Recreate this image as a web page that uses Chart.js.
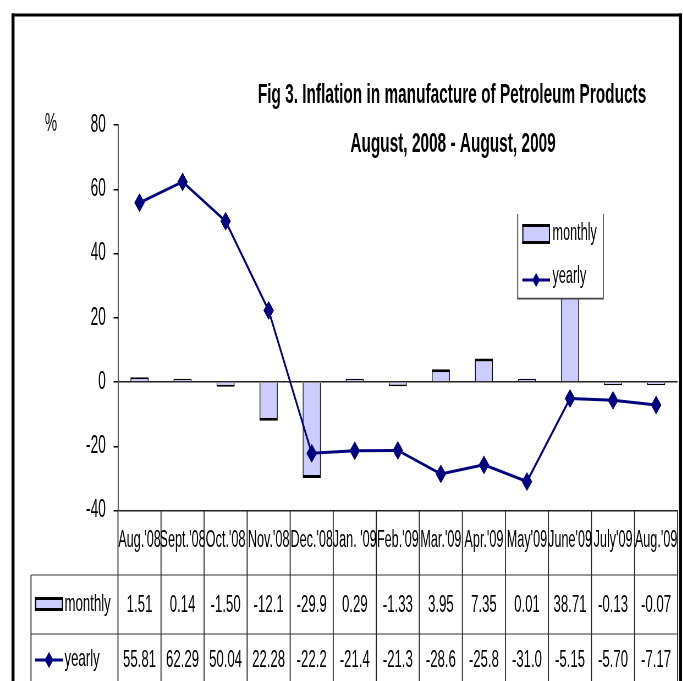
<!DOCTYPE html>
<html>
<head>
<meta charset="utf-8">
<script src="https://cdn.jsdelivr.net/npm/chart.js@4/dist/chart.umd.min.js"></script>
<style>
html,body{margin:0;padding:0;overflow:hidden;background:#fff;width:683px;height:681px;}
#wrap{position:absolute;left:0;top:0;width:1242px;height:681px;transform:scaleX(0.55);transform-origin:0 0;}
canvas{display:block;}
</style>
</head>
<body>
<div id="wrap"><canvas id="c" width="1242" height="681"></canvas></div>
<script>
// ---- data ----
const categories = ["Aug.'08","Sept.'08","Oct.'08","Nov.'08","Dec.'08","Jan. '09","Feb.'09","Mar.'09","Apr.'09","May'09","June'09","July'09","Aug.'09"];
const monthly = [1.51, 0.14, -1.50, -12.1, -29.9, 0.29, -1.33, 3.95, 7.35, 0.01, 38.71, -0.13, -0.07];
const yearly  = [55.81, 62.29, 50.04, 22.28, -22.2, -21.4, -21.3, -28.6, -25.8, -31.0, -5.15, -5.70, -7.17];
const seriesNames = ["monthly", "yearly"];
const titleLines = ["Fig 3. Inflation in manufacture of Petroleum Products", "August, 2008 - August, 2009"];
const yUnit = "%";
const yMin = -40, yMax = 80, yStep = 20;

// ---- styling helpers ----
const S = 0.55;               // horizontal squeeze of the page
const vx = x => x / S;        // final-pixel x -> canvas x
const FONT = '"Liberation Sans", Arial, sans-serif';
const BAR_FILL = '#CCCCFF';
const LINE_COL = '#000080';

function fmt(v){ let s = v.toFixed(2); if (s.length > 5) s = v.toFixed(1); return s; }

function diamond(ctx, x, y, r){
  ctx.beginPath();
  ctx.moveTo(x, y - r); ctx.lineTo(x + r, y); ctx.lineTo(x, y + r); ctx.lineTo(x - r, y); ctx.closePath();
  ctx.fill();
}
function swatch(ctx, x1, y1, x2, y2){
  ctx.fillStyle = BAR_FILL; ctx.fillRect(x1, y1, x2 - x1, y2 - y1);
  ctx.fillStyle = '#000';
  ctx.fillRect(x1, y1, x2 - x1, 3);
  ctx.fillRect(x1, y2 - 3, x2 - x1, 3);
  ctx.fillRect(x1, y1, 2, y2 - y1);
  ctx.fillRect(x2 - 2, y1, 2, y2 - y1);
}
function lineSample(ctx, x1, x2, y, r){
  ctx.strokeStyle = LINE_COL; ctx.lineWidth = 3;
  ctx.beginPath(); ctx.moveTo(x1, y); ctx.lineTo(x2, y); ctx.stroke();
  ctx.fillStyle = LINE_COL; diamond(ctx, (x1 + x2) / 2, y, r);
}

const decor = {
  id: 'decor',
  afterDraw(chart){
    const ctx = chart.ctx, xs = chart.scales.x, ca = chart.chartArea;
    ctx.save();
    // frame
    ctx.fillStyle = '#000';
    ctx.fillRect(vx(11.5), 13.5, vx(3), 700);
    ctx.fillRect(vx(11.5), 13.5, vx(682) - vx(11.5), 3);
    ctx.fillRect(vx(679), 13.5, vx(3), 700);
    // unit label
    ctx.textAlign = 'center'; ctx.textBaseline = 'middle';
    ctx.font = '25px ' + FONT;
    ctx.fillText(yUnit, vx(51), 124);
    // title
    ctx.font = 'bold 28px ' + FONT; ctx.textBaseline = 'alphabetic';
    ctx.fillText(titleLines[0], vx(452), 103);
    ctx.fillText(titleLines[1], vx(453), 152);
    // data table
    const n = categories.length, step = (ca.right - ca.left) / n;
    ctx.strokeStyle = '#222'; ctx.lineWidth = 1.8;
    for (let i = 0; i <= n; i++){
      const x = ca.left + i * step;
      ctx.beginPath(); ctx.moveTo(x, ca.bottom); ctx.lineTo(x, 690); ctx.stroke();
    }
    ctx.lineWidth = 1.2; ctx.strokeStyle = '#333';
    [575, 634].forEach(y => { ctx.beginPath(); ctx.moveTo(vx(31), y); ctx.lineTo(ca.right, y); ctx.stroke(); });
    ctx.lineWidth = 1.8; ctx.strokeStyle = '#222';
    ctx.beginPath(); ctx.moveTo(vx(31), 575); ctx.lineTo(vx(31), 690); ctx.stroke();
    ctx.fillStyle = '#000'; ctx.textAlign = 'center'; ctx.textBaseline = 'middle';
    ctx.font = '23px ' + FONT;
    categories.forEach((c, i) => ctx.fillText(c, xs.getPixelForValue(i), 541));
    ctx.font = '24px ' + FONT;
    monthly.forEach((v, i) => ctx.fillText(fmt(v), xs.getPixelForValue(i), 605));
    yearly.forEach((v, i) => ctx.fillText(fmt(v), xs.getPixelForValue(i), 660));
    // row headers
    swatch(ctx, vx(35), 597, vx(63), 611);
    lineSample(ctx, vx(35), vx(63), 660, 8);
    ctx.fillStyle = '#000'; ctx.textAlign = 'left'; ctx.font = '24px ' + FONT;
    ctx.fillText(seriesNames[0], vx(64.5), 604);
    ctx.fillText(seriesNames[1], vx(64.5), 659);
    // legend box
    const lx1 = vx(517.7), lx2 = vx(603.3), ly1 = 214, ly2 = 298.7;
    ctx.fillStyle = '#fff'; ctx.fillRect(lx1, ly1, lx2 - lx1, ly2 - ly1);
    ctx.strokeStyle = '#444'; ctx.lineWidth = 1.8;
    ctx.beginPath(); ctx.moveTo(lx1, ly1); ctx.lineTo(lx1, ly2); ctx.lineTo(lx2, ly2); ctx.lineTo(lx2, ly1); ctx.stroke();
    swatch(ctx, vx(522.3), 224, vx(550), 244);
    lineSample(ctx, vx(522.3), vx(550), 280, 7);
    ctx.fillStyle = '#000'; ctx.textAlign = 'left'; ctx.font = '23px ' + FONT;
    ctx.fillText(seriesNames[0], vx(552.5), 234);
    ctx.fillText(seriesNames[1], vx(552.5), 277);
    ctx.restore();
  }
};

new Chart(document.getElementById('c'), {
  data: {
    labels: categories,
    datasets: [
      { type: 'line', label: seriesNames[1], data: yearly, order: 0,
        borderColor: LINE_COL, backgroundColor: LINE_COL, borderWidth: 3, tension: 0,
        pointStyle: 'rectRot', pointRadius: 9, pointBackgroundColor: LINE_COL, pointBorderColor: LINE_COL, pointBorderWidth: 1 },
      { type: 'bar', label: seriesNames[0], data: monthly, order: 1,
        backgroundColor: BAR_FILL, borderColor: '#000',
        borderWidth: { top: 3, bottom: 3, left: 1.6, right: 1.6 }, borderSkipped: 'start',
        minBarLength: 3.2, categoryPercentage: 1, barPercentage: 0.42 }
    ]
  },
  options: {
    responsive: false, animation: false, devicePixelRatio: 1,
    layout: { padding: { left: 0, right: 2.5, top: 125, bottom: 170.5 } },
    plugins: { legend: { display: false }, title: { display: false }, tooltip: { enabled: false } },
    scales: {
      x: { type: 'category', display: false, offset: true },
      y: {
        min: yMin, max: yMax,
        afterFit(s){ s.width = 214.5; },
        ticks: { stepSize: yStep, color: '#000', font: { family: FONT, size: 25 }, padding: 14 },
        grid: {
          drawOnChartArea: true, drawTicks: true, tickLength: 8, tickColor: '#000', tickWidth: 1.5,
          lineWidth: 1.5,
          color: c => (c.tick && (c.tick.value === 0 || c.tick.value === yMin)) ? '#222' : 'rgba(0,0,0,0)'
        },
        border: { display: true, color: '#333', width: 1.8 }
      }
    }
  },
  plugins: [decor]
});
</script>
</body>
</html>
